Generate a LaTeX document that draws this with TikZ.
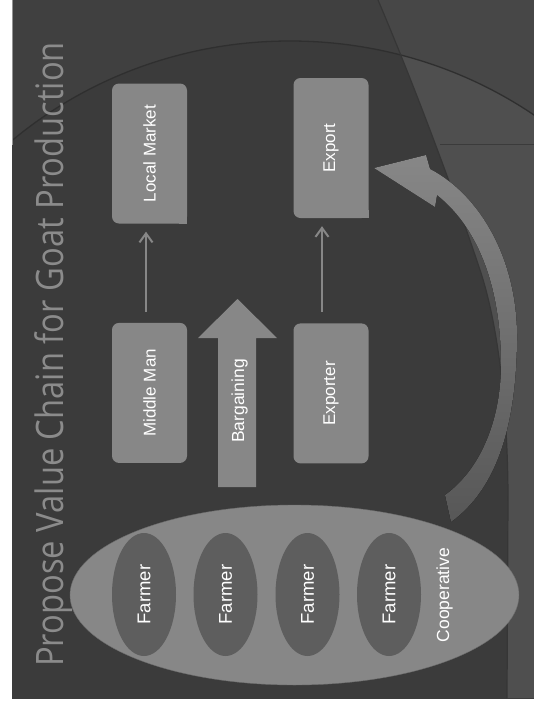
\documentclass[tikz,border=0pt]{standalone}
\usepackage{fontspec}
\setmainfont{Liberation Sans}
\newfontfamily\titlefont[FakeStretch=0.866]{Open Sans}
\usepackage{tikz}
\usetikzlibrary{arrows.meta,positioning,calc,shapes.geometric}
\definecolor{slideTop}{HTML}{404040}
\definecolor{slideBg}{HTML}{3B3B3B}
\definecolor{sideBg}{HTML}{474747}
\definecolor{sideLow}{HTML}{4F4F4F}
\definecolor{arcLine}{HTML}{2F2F2F}
\definecolor{boxGray}{HTML}{878787}
\definecolor{boxEdge}{HTML}{6C6C6C}
\definecolor{farmGray}{HTML}{5E5E5E}
\definecolor{titleGray}{HTML}{8B8B8B}
\definecolor{tailGray}{HTML}{575757}

\begin{document}
\begin{tikzpicture}[x=1pt,y=-1pt,
  box/.style={fill=boxGray,rounded corners=7pt,minimum width=75pt,minimum height=140pt,inner sep=0pt,text=white,font=\fontsize{17}{20}\selectfont},
  farmer/.style={ellipse,fill=farmGray,minimum width=64pt,minimum height=123pt,inner sep=0pt,text=white,font=\fontsize{18.5}{20}\selectfont},
  label/.style={inner sep=0pt,text=white,font=\fontsize{17.5}{20}\selectfont},
  link/.style={draw=boxGray,line width=2pt,-{Straight Barb[length=9pt,width=13pt]},shorten <=11pt,shorten >=8pt}]
  \useasboundingbox (0,0) rectangle (534,707);
  \fill[white] (0,0) rectangle (534,707);
  % slide background
  \fill[slideTop] (12,0) rectangle (534,698);
  \begin{scope}
    \clip (12,0) rectangle (534,698);
    \fill[slideBg] (290,441) ellipse [x radius=421pt,y radius=400pt];
    \begin{scope}
      \clip (378,0) .. controls (410,75) and (450,180) .. (480,270) .. controls (500,330) and (508,420) .. (508,500) -- (507,698) -- (534,698) -- (534,0) -- cycle;
      \fill[sideBg] (370,0) rectangle (534,698);
      \fill[sideLow] (290,441) ellipse [x radius=421pt,y radius=400pt];
      \draw[arcLine!50!sideBg] (440,144) -- (534,144);
    \end{scope}
    \draw[arcLine,line width=1.3pt] (290,441) ellipse [x radius=421pt,y radius=400pt];
    \draw[arcLine!70!sideBg,line width=1.2pt] (378,0) .. controls (410,75) and (450,180) .. (480,270) .. controls (500,330) and (508,420) .. (508,500) -- (507,698);
  \end{scope}
  \draw[black!42,line width=0.8pt] (12.4,0) -- (12.4,145);

  % title
  \node[rotate=90,anchor=base west,inner sep=0pt,text=titleGray,font=\titlefont\fontsize{37.8}{40}\selectfont] (title) at (63,667) {Propose Value Chain for Goat Production};

  % chain boxes
  \node[box] (lm) at (149.5,153.5) {\rotatebox{90}{Local Market}};
  \node[box,below=99pt of lm] (mm) {\rotatebox{90}{Middle Man}};
  \node[box] (ex) at (331,148) {\rotatebox{90}{Export}};
  \node[box,below=105pt of ex] (exr) {\rotatebox{90}{Exporter}};
  \foreach \n in {lm,ex}
    \fill[boxGray] ([xshift=-8pt]\n.south east) rectangle ([yshift=8pt]\n.south east);
  \draw[link] ([xshift=-3.5pt]mm.north) -- ([xshift=-3.5pt]lm.south);
  \draw[link] ([xshift=-9pt]exr.north) -- ([xshift=-9pt]ex.south);

  % bargaining arrow
  \fill[boxGray] (218,487) -- (218,338) -- (198,338) -- (237.5,299) -- (277,338) -- (256,338) -- (256,487) -- cycle;
  \node[label] (barg) at (239.5,401) {\rotatebox{90}{Bargaining}};

  % cooperative with farmers
  \node[ellipse,fill=boxGray,draw=boxEdge,minimum width=449pt,minimum height=180pt] (coop) at (294.5,595) {};
  \foreach \i/\x in {1/144,2/225.5,3/307.5,4/389}
    \node[farmer] (f\i) at (\x,594.5) {\rotatebox{90}{Farmer}};
  \node[label] (coopl) at (444.5,595) {\rotatebox{90}{Cooperative}};

  % curved arrow to export
  \fill[top color=boxGray,bottom color=tailGray] (374,168) -- (426,155) -- (430,169) .. controls (480,195) and (518,260) .. (517,340) .. controls (516,430) and (495,490) .. (451,522) -- (445,495) .. controls (480,470) and (502,420) .. (501,360) .. controls (500,280) and (475,225) .. (437,195) -- (435,207) -- cycle;
\end{tikzpicture}
\end{document}
